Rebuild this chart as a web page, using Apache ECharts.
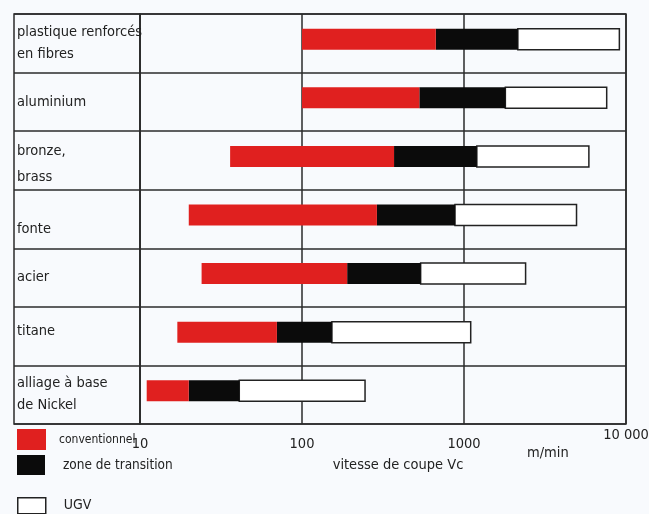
<!DOCTYPE html>
<html>
<head>
<meta charset="utf-8">
<script src="https://cdn.jsdelivr.net/npm/echarts@6/dist/echarts.min.js"></script>
<style>
  html, body { margin: 0; padding: 0; background: #f8fafd; }
  #chart { width: 649px; height: 514px; }
</style>
</head>
<body>
<div id="chart"></div>
<script>
// materials, top to bottom
const materials = [
  "plastique renforcés\nen fibres",
  "aluminium",
  "bronze,\nbrass",
  "fonte",
  "acier",
  "titane",
  "alliage à base\nde Nickel",
];

// cutting speed ranges, m/min [from, to]
const conventionnel = [[100, 670], [100, 530], [36, 370], [20, 290], [24, 190], [17, 70], [11, 20]];
const transition = [[670, 2150], [530, 1800], [370, 1200], [290, 880], [190, 540], [70, 153], [20, 41]];
const ugv = [[2150, 9100], [1800, 7600], [1200, 5900], [880, 4950], [540, 2400], [153, 1100], [41, 245]];

const FONT = '"Liberation Sans Narrow", "DejaVu Sans Condensed", "Arial Narrow", sans-serif';
const INK = "#222";
const LINE = "#2b2b2b";
const BAR_H = 21;

const toRows = (ranges) => ranges.map((r, i) => [materials[i], r[0], r[1]]);

const drawRange = (params, api) => {
  const row = api.value(0);
  const from = api.coord([api.value(1), row]);
  const to = api.coord([api.value(2), row]);
  return {
    type: "rect",
    shape: { x: from[0], y: from[1] - BAR_H / 2 - 4, width: to[0] - from[0], height: BAR_H },
    style: api.style(),
  };
};

const chart = echarts.init(document.getElementById("chart"));

const option = {
  backgroundColor: "#f8fafd",
  animation: false,
  textStyle: { fontFamily: FONT, color: INK },
  grid: [
    { left: 14, top: 14, width: 126, bottom: 90, show: true, borderColor: LINE, borderWidth: 1.5, outerBoundsMode: "none" },
    { left: 140, top: 14, right: 23, bottom: 90, show: true, borderColor: LINE, borderWidth: 1.5, outerBoundsMode: "none" },
  ],
  xAxis: [
    { gridIndex: 0, type: "value", show: false },
    {
      gridIndex: 1,
      type: "log",
      logBase: 10,
      min: 10,
      max: 10000,
      axisLine: { show: false },
      axisTick: { show: false },
      splitLine: { show: true, lineStyle: { color: LINE, width: 1.5 } },
      axisLabel: {
        margin: 4,
        showMinLabel: true,
        showMaxLabel: true,
        formatter: (v) => (v === 10000 ? "{hi|10 000}" : "{n|" + v + "}"),
        rich: {
          n: { fontFamily: FONT, fontSize: 14.5, color: INK, padding: [9, 0, 0, 0] },
          hi: { fontFamily: FONT, fontSize: 14.5, color: INK },
        },
      },
      name: "vitesse de coupe Vc",
      nameLocation: "middle",
      nameGap: 34,
      nameTextStyle: { fontFamily: FONT, fontSize: 14.5, color: INK, padding: [0, 0, 0, 30] },
    },
  ],
  yAxis: [
    {
      gridIndex: 0,
      type: "category",
      inverse: true,
      data: materials,
      axisLine: { show: false },
      axisTick: { show: false },
      splitLine: { show: true, interval: 0, lineStyle: { color: LINE, width: 1.5 } },
      axisLabel: {
        inside: true,
        margin: 3,
        interval: 0,
        align: "left",
        fontFamily: FONT,
        fontSize: 14.5,
        lineHeight: 22,
        color: INK,
        formatter: (v) => {
          if (v === "fonte") return "{low|fonte}";
          if (v === "titane") return "{up|titane}";
          if (v.startsWith("bronze")) return "{br|bronze,}\n{br|brass}";
          return v;
        },
        rich: {
          low: { fontFamily: FONT, fontSize: 14.5, color: INK, padding: [20, 0, 0, 0] },
          up: { fontFamily: FONT, fontSize: 14.5, color: INK, padding: [0, 0, 10, 0] },
          br: { fontFamily: FONT, fontSize: 14.5, color: INK, lineHeight: 26, padding: [8, 0, 0, 0] },
        },
      },
    },
    {
      gridIndex: 1,
      type: "category",
      inverse: true,
      data: materials,
      axisLine: { show: false },
      axisTick: { show: false },
      axisLabel: { show: false },
      splitLine: { show: true, interval: 0, lineStyle: { color: LINE, width: 1.5 } },
    },
  ],
  legend: [
    {
      data: ["conventionnel"],
      left: 17,
      top: 429,
      padding: 0,
      icon: "rect",
      itemWidth: 29,
      itemHeight: 21,
      selectedMode: false,
      textStyle: { fontFamily: FONT, fontSize: 12, color: INK, padding: [0, 0, 0, 8] },
    },
    {
      data: ["zone de transition"],
      left: 17,
      top: 455,
      padding: 0,
      icon: "rect",
      itemWidth: 28,
      itemHeight: 20,
      selectedMode: false,
      textStyle: { fontFamily: FONT, fontSize: 13.5, color: INK, padding: [0, 0, 0, 13] },
    },
    {
      data: ["UGV"],
      left: 17,
      top: 497,
      padding: 0,
      icon: "rect",
      itemWidth: 28,
      itemHeight: 16,
      selectedMode: false,
      itemStyle: { color: "#fff", borderColor: INK, borderWidth: 1.5 },
      textStyle: { fontFamily: FONT, fontSize: 14, color: INK, padding: [0, 0, 0, 13] },
    },
  ],
  graphic: [
    {
      type: "text",
      left: 527,
      top: 446,
      style: { text: "m/min", fontFamily: FONT, fontSize: 14.5, fill: INK },
    },
  ],
  series: [
    {
      name: "UGV",
      type: "custom",
      xAxisIndex: 1,
      yAxisIndex: 1,
      renderItem: drawRange,
      encode: { x: [1, 2], y: 0 },
      itemStyle: { color: "#fff", borderColor: INK, borderWidth: 1.5 },
      data: toRows(ugv),
    },
    {
      name: "zone de transition",
      type: "custom",
      xAxisIndex: 1,
      yAxisIndex: 1,
      renderItem: drawRange,
      encode: { x: [1, 2], y: 0 },
      itemStyle: { color: "#0b0b0b" },
      data: toRows(transition),
    },
    {
      name: "conventionnel",
      type: "custom",
      xAxisIndex: 1,
      yAxisIndex: 1,
      renderItem: drawRange,
      encode: { x: [1, 2], y: 0 },
      itemStyle: { color: "#e0201f" },
      data: toRows(conventionnel),
    },
  ],
};

chart.setOption(option);

window.addEventListener("resize", () => {
  chart.resize();
});
</script>
</body>
</html>
